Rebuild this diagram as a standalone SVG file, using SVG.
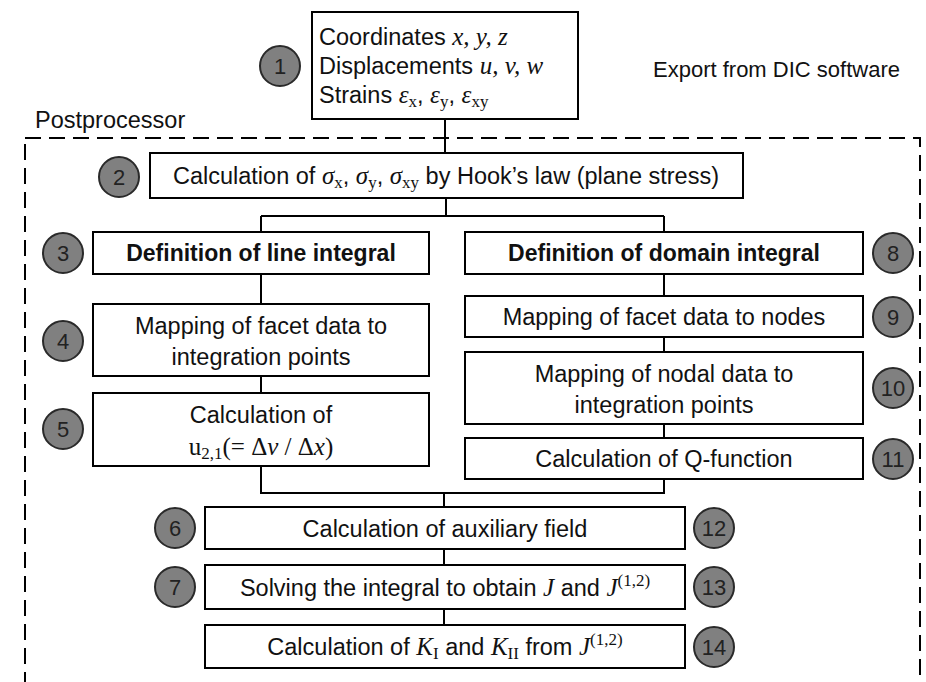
<svg xmlns="http://www.w3.org/2000/svg" width="926" height="682" viewBox="0 0 926 682">
<style>
.box{fill:#fff;stroke:#000;stroke-width:2}
.num{fill:#808080;stroke:#2a2a2a;stroke-width:2}
.nt{font-family:"Liberation Sans",Arial,sans-serif;font-size:22px;fill:#222;text-anchor:middle}
.t{font-family:"Liberation Sans",Arial,sans-serif;font-size:23.5px;fill:#111}
.c{text-anchor:middle}
.b{font-weight:bold;font-size:23px}
.m{font-family:"Liberation Serif","Times New Roman",serif;font-style:italic;font-size:25px}
.r{font-family:"Liberation Serif","Times New Roman",serif;font-style:normal;font-size:25px}
.s{font-family:"Liberation Serif","Times New Roman",serif;font-style:normal;font-size:17px}
.ln{stroke:#000;stroke-width:2;fill:none}
.dash{stroke:#000;stroke-width:2;fill:none;stroke-dasharray:16 8}
</style>
<rect class="dash" x="25" y="138" width="895" height="580"/>
<text class="t" x="35" y="128">Postprocessor</text>
<text class="t" x="653" y="77" style="font-size:22px">Export from DIC software</text>
<g id="connectors">
<path class="ln" d="M445 119V153M446 198V216M261 216H664M261 216V232M664 216V232M261 274V304M261 376V393M664 274V296M664 337V352M664 424V438M261 466V493H664V479M444 493V507M444 549V565M444 609V625"/>
</g>
<g id="n1">
<rect class="box" x="312" y="12" width="266" height="107"/>
<text class="t" x="319" y="45">Coordinates <tspan class="m">x, y, z</tspan></text>
<text class="t" x="319" y="74">Displacements <tspan class="m">u, v, w</tspan></text>
<text class="t" x="319" y="103">Strains <tspan class="m">ε</tspan><tspan class="s" dy="4">x</tspan><tspan dy="-4">, </tspan><tspan class="m">ε</tspan><tspan class="s" dy="4">y</tspan><tspan dy="-4">, </tspan><tspan class="m">ε</tspan><tspan class="s" dy="4">xy</tspan></text>
<circle class="num" cx="280" cy="66" r="20"/><text class="nt" x="280" y="74">1</text>
</g>
<g id="n2">
<rect class="box" x="150" y="153" width="593" height="45"/>
<text class="t c" x="446" y="184">Calculation of <tspan class="m">σ</tspan><tspan class="s" dy="4">x</tspan><tspan dy="-4">, </tspan><tspan class="m">σ</tspan><tspan class="s" dy="4">y</tspan><tspan dy="-4">, </tspan><tspan class="m">σ</tspan><tspan class="s" dy="4">xy</tspan><tspan dy="-4"> by Hook’s law (plane stress)</tspan></text>
<circle class="num" cx="119" cy="177" r="20"/><text class="nt" x="119" y="185">2</text>
</g>
<g id="n3">
<rect class="box" x="93" y="232" width="336" height="42"/>
<text class="t c b" x="261" y="261">Definition of line integral</text>
<circle class="num" cx="63" cy="253" r="20"/><text class="nt" x="63" y="261">3</text>
</g>
<g id="n4">
<rect class="box" x="93" y="304" width="336" height="72"/>
<text class="t c" x="261" y="334">Mapping of facet data to</text>
<text class="t c" x="261" y="365">integration points</text>
<circle class="num" cx="63" cy="341" r="20"/><text class="nt" x="63" y="349">4</text>
</g>
<g id="n5">
<rect class="box" x="93" y="393" width="336" height="73"/>
<text class="t c" x="261" y="423">Calculation of</text>
<text class="t c" x="261" y="455"><tspan class="r">u</tspan><tspan class="s" dy="4">2,1</tspan><tspan class="r" dy="-4">(= Δ</tspan><tspan class="m">v</tspan><tspan class="r"> / Δ</tspan><tspan class="m">x</tspan><tspan class="r">)</tspan></text>
<circle class="num" cx="63" cy="429" r="20"/><text class="nt" x="63" y="437">5</text>
</g>
<g id="n6">
<rect class="box" x="205" y="507" width="480" height="42"/>
<text class="t c" x="445" y="537">Calculation of auxiliary field</text>
<circle class="num" cx="175" cy="528" r="20"/><text class="nt" x="175" y="536">6</text>
<circle class="num" cx="714" cy="528" r="20"/><text class="nt" x="714" y="536">12</text>
</g>
<g id="n7">
<rect class="box" x="205" y="565" width="480" height="44"/>
<text class="t c" x="445" y="596">Solving the integral to obtain <tspan class="m">J</tspan> and <tspan class="m">J</tspan><tspan class="s" dy="-10">(1,2)</tspan></text>
<circle class="num" cx="175" cy="587" r="20"/><text class="nt" x="175" y="595">7</text>
<circle class="num" cx="714" cy="587" r="20"/><text class="nt" x="714" y="595">13</text>
</g>
<g id="n14">
<rect class="box" x="205" y="625" width="480" height="43"/>
<text class="t c" x="445" y="655">Calculation of <tspan class="m">K</tspan><tspan class="s" dy="4">I</tspan><tspan dy="-4"> and </tspan><tspan class="m">K</tspan><tspan class="s" dy="4">II</tspan><tspan dy="-4"> from </tspan><tspan class="m">J</tspan><tspan class="s" dy="-10">(1,2)</tspan></text>
<circle class="num" cx="714" cy="647" r="20"/><text class="nt" x="714" y="655">14</text>
</g>
<g id="n8">
<rect class="box" x="465" y="232" width="398" height="42"/>
<text class="t c b" x="664" y="261">Definition of domain integral</text>
<circle class="num" cx="893" cy="253" r="20"/><text class="nt" x="893" y="261">8</text>
</g>
<g id="n9">
<rect class="box" x="465" y="296" width="398" height="41"/>
<text class="t c" x="664" y="325">Mapping of facet data to nodes</text>
<circle class="num" cx="893" cy="317" r="20"/><text class="nt" x="893" y="325">9</text>
</g>
<g id="n10">
<rect class="box" x="465" y="352" width="398" height="72"/>
<text class="t c" x="664" y="382">Mapping of nodal data to</text>
<text class="t c" x="664" y="413">integration points</text>
<circle class="num" cx="893" cy="388" r="20"/><text class="nt" x="893" y="396">10</text>
</g>
<g id="n11">
<rect class="box" x="465" y="438" width="398" height="41"/>
<text class="t c" x="664" y="467">Calculation of Q-function</text>
<circle class="num" cx="893" cy="459" r="20"/><text class="nt" x="893" y="467">11</text>
</g>
</svg>
